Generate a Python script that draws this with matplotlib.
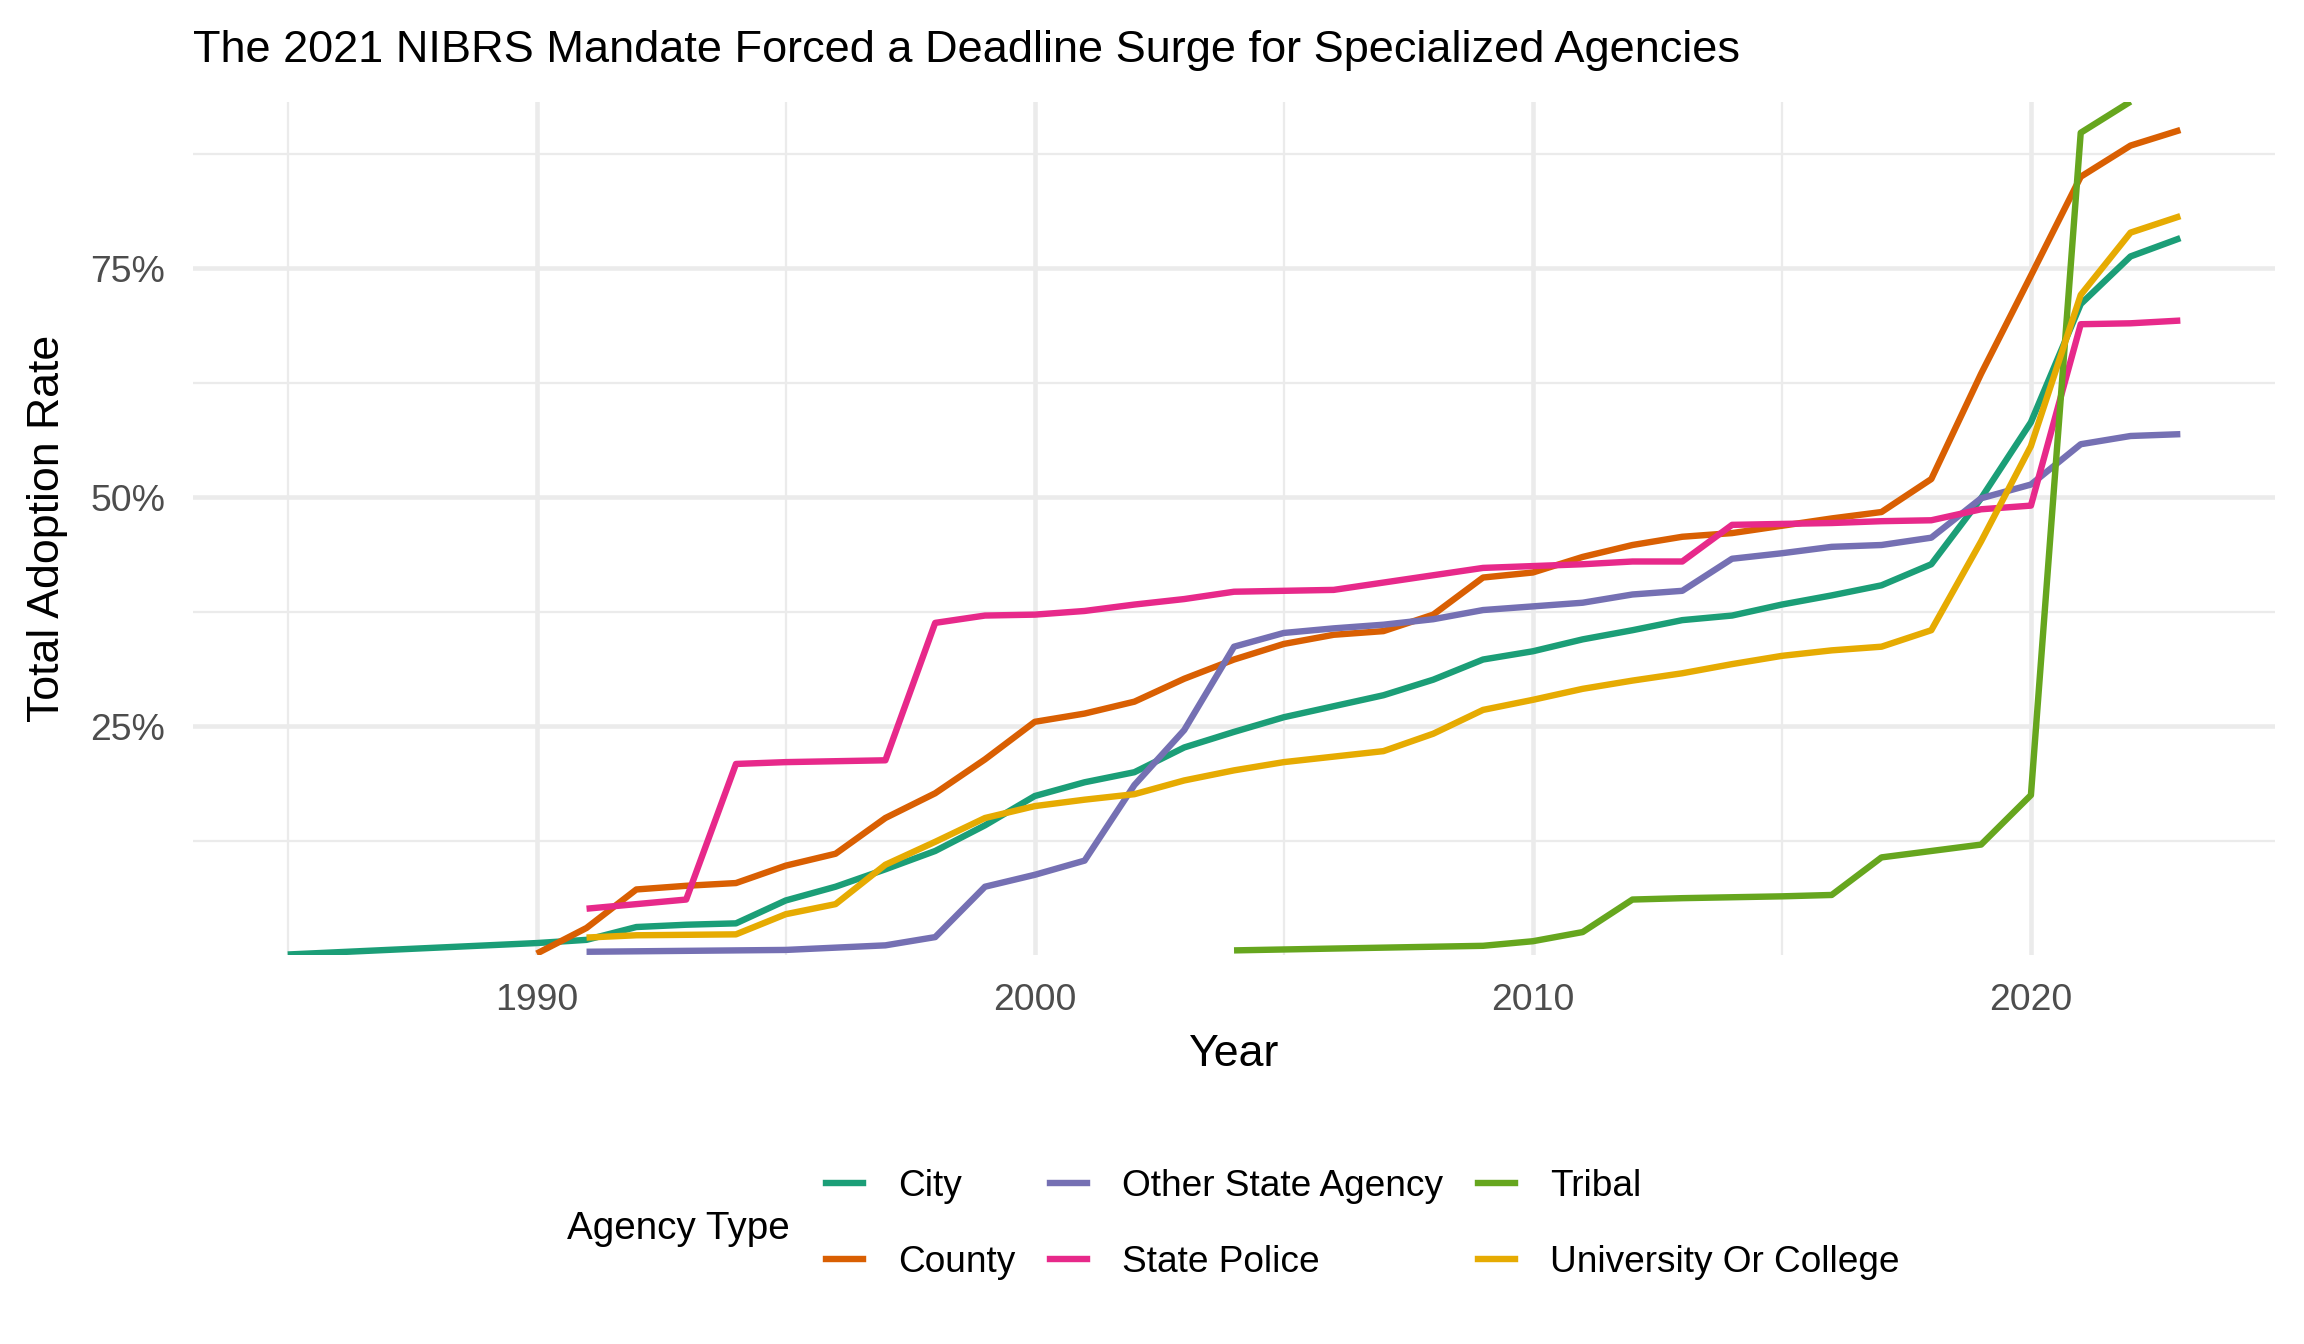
import matplotlib
matplotlib.use("Agg")
import matplotlib.pyplot as plt
from matplotlib.ticker import MultipleLocator, FuncFormatter
from matplotlib.lines import Line2D

plt.rcParams['font.family'] = ['Liberation Sans', 'DejaVu Sans']

# adoption rate in percent
city_years = list(range(1985, 2024))
city = [0.1, 0.35, 0.6, 0.85, 1.1, 1.35, 1.7, 3.1, 3.35, 3.5, 6.0, 7.5, 9.4, 11.4,
        14.2, 17.4, 18.9, 20.0, 22.7, 24.4, 26.0, 27.2, 28.4, 30.1, 32.3, 33.2,
        34.5, 35.5, 36.6, 37.1, 38.3, 39.3, 40.4, 42.7, 49.9, 58.2, 71.1, 76.3, 78.3]

county_years = list(range(1990, 2024))
county = [0.2, 3.0, 7.2, 7.6, 7.9, 9.8, 11.1, 15.0, 17.7, 21.4, 25.5, 26.4, 27.7,
          30.2, 32.3, 34.0, 35.0, 35.4, 37.2, 41.25, 41.8, 43.5, 44.8, 45.7, 46.1,
          46.9, 47.7, 48.4, 52.0, 63.5, 74.2, 85.0, 88.4, 90.1]

other_years = list(range(1991, 2024))
other_state = [0.4, 0.45, 0.5, 0.55, 0.6, 0.85, 1.1, 2.0, 7.5, 8.8, 10.35, 18.6,
               24.6, 33.7, 35.2, 35.7, 36.1, 36.7, 37.7, 38.1, 38.5, 39.4, 39.8,
               43.3, 43.9, 44.6, 44.8, 45.6, 49.9, 51.4, 55.8, 56.7, 56.9]

police_years = list(range(1991, 2024))
state_police = [5.1, 5.6, 6.1, 20.9, 21.1, 21.2, 21.3, 36.3, 37.1, 37.2, 37.6,
                38.3, 38.9, 39.7, 39.8, 39.9, 40.7, 41.5, 42.3, 42.5, 42.7, 43.0,
                43.0, 47.0, 47.1, 47.2, 47.4, 47.5, 48.7, 49.1, 68.9, 69.0, 69.3]

tribal_years = list(range(2004, 2023))
tribal = [0.55, 0.65, 0.75, 0.85, 0.95, 1.05, 1.55, 2.55, 6.1, 6.25, 6.35, 6.45,
          6.6, 10.7, 11.4, 12.1, 17.5, 89.8, 93.2]

univ_years = list(range(1991, 2024))
university = [1.95, 2.2, 2.25, 2.3, 4.5, 5.6, 9.9, 12.4, 15.0, 16.3, 17.0, 17.6,
              19.1, 20.2, 21.1, 21.7, 22.3, 24.2, 26.8, 27.9, 29.1, 30.0, 30.8,
              31.8, 32.7, 33.3, 33.7, 35.5, 45.2, 55.6, 72.1, 78.9, 80.7]

labels = ["City", "County", "Other State Agency", "State Police", "Tribal",
          "University Or College"]
colors = ["#1B9E77", "#D95F02", "#7570B3", "#E7298A", "#66A61E", "#E6AB02"]
series = [(city_years, city), (county_years, county), (other_years, other_state),
          (police_years, state_police), (tribal_years, tribal),
          (univ_years, university)]

LW = 2.4

fig = plt.figure(figsize=(12, 7), dpi=192)
ax = fig.add_axes([0.0838, 0.2898, 0.9036, 0.6346])

for (yrs, vals), lab, col in zip(series, labels, colors):
    ax.plot(yrs, vals, color=col, lw=LW, label=lab,
            solid_joinstyle='round', solid_capstyle='butt')

all_vals = [v for _, s in series for v in s]
all_years = [y for ys, _ in series for y in ys]
span = max(all_years) - min(all_years)
ax.set_xlim(min(all_years) - 0.05 * span, max(all_years) + 0.05 * span)
ax.set_ylim(min(all_vals), max(all_vals))

ax.xaxis.set_major_locator(MultipleLocator(10))
ax.xaxis.set_minor_locator(MultipleLocator(5))
ax.yaxis.set_major_locator(MultipleLocator(25))
ax.yaxis.set_minor_locator(MultipleLocator(12.5))
ax.yaxis.set_major_formatter(FuncFormatter(lambda v, p: f"{v:.0f}%"))

ax.grid(which='major', color='#EBEBEB', lw=1.7)
ax.grid(which='minor', color='#EBEBEB', lw=0.85)
ax.set_axisbelow(True)
for s in ax.spines.values():
    s.set_visible(False)
ax.tick_params(which='both', length=0)
ax.tick_params(axis='both', labelsize=14, labelcolor='#4D4D4D', pad=10.5)

fig.text(0.0838, 0.9539, "The 2021 NIBRS Mandate Forced a Deadline Surge for Specialized Agencies",
         fontsize=16.95, ha='left', va='baseline')
fig.text(0.5356, 0.2072, "Year", fontsize=16.8, ha='center', va='baseline')
fig.text(0.0205, 0.2898 + 0.6346 / 2, "Total Adoption Rate", fontsize=16.8,
         rotation=90, ha='center', va='center')

handles = [Line2D([], [], color=c, lw=LW) for c in colors]
fig.legend(handles, labels, ncol=3, loc='center left',
           bbox_to_anchor=(0.3585, 0.0889), frameon=False, fontsize=13.9,
           handlelength=1.0, handletextpad=0.94, columnspacing=0.94,
           labelspacing=1.1, borderpad=0, borderaxespad=0)
fig.text(0.2461, 0.0784, "Agency Type", fontsize=14.5, ha='left', va='baseline')

fig.savefig("out.png", dpi=192)
